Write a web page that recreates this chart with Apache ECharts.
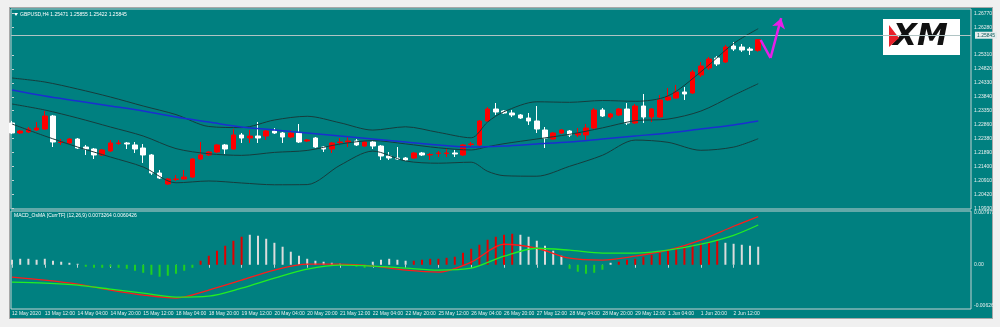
<!DOCTYPE html>
<html>
<head>
<meta charset="utf-8">
<script src="https://cdn.jsdelivr.net/npm/echarts/dist/echarts.min.js"></script>
<style>
  html, body { margin: 0; padding: 0; background: #f0f0f0; }
  #frame { position: absolute; left: 9px; top: 7px; width: 984px; height: 312px;
           background: #008080; border: 1px solid #a8a8a8; box-sizing: border-box; }
  #chart { position: absolute; left: 0; top: 0; width: 1000px; height: 327px; }
</style>
</head>
<body>
<div id="frame"></div>
<div id="chart"></div>
<script>
// GBPUSD H4 candles, one entry per bar
const opens = [
  1.22920,1.22569,1.22604,1.22674,1.22709,1.23165,1.22235,1.22218,1.22358,1.22077,
  1.22007,1.21797,1.21937,1.22200,1.22218,1.22148,1.22042,1.21797,1.21165,1.20779,
  1.20937,1.20954,1.21024,1.21656,1.21797,1.21902,1.22148,1.22007,1.22499,1.22393,
  1.22463,1.22463,1.22639,1.22569,1.22428,1.22569,1.22288,1.22393,1.22077,1.22007,
  1.22235,1.22253,1.22288,1.22112,1.22253,1.22112,1.21761,1.21691,1.21691,1.21691,
  1.21867,1.21797,1.21849,1.21849,1.21867,1.21797,1.22165,1.22148,1.22990,1.23411,
  1.23341,1.23271,1.23201,1.23095,1.22990,1.22674,1.22358,1.22569,1.22639,1.22499,
  1.22499,1.22744,1.23376,1.23130,1.23201,1.23411,1.22920,1.23516,1.23130,1.23130,
  1.23727,1.23797,1.24008,1.23973,1.24605,1.24850,1.25201,1.25061,1.25622,1.25587,
  1.25517,1.25471];
const highs = [
  1.22990,1.22674,1.22779,1.22955,1.23341,1.23201,1.22358,1.22393,1.22393,1.22148,
  1.22042,1.22007,1.22323,1.22323,1.22253,1.22253,1.22183,1.21832,1.21270,1.20989,
  1.21095,1.21270,1.21691,1.22253,1.21937,1.22183,1.22183,1.22709,1.22569,1.22674,
  1.22955,1.22674,1.22744,1.22604,1.22674,1.22885,1.22358,1.22428,1.22112,1.22253,
  1.22393,1.22428,1.22358,1.22288,1.22288,1.22148,1.21902,1.22077,1.21726,1.21902,
  1.21902,1.21867,1.21937,1.22007,1.21972,1.22183,1.22253,1.23025,1.23481,1.23622,
  1.23376,1.23376,1.23236,1.23271,1.23516,1.22779,1.22604,1.22709,1.22674,1.22744,
  1.22885,1.23446,1.23446,1.23271,1.23446,1.23622,1.23587,1.23938,1.23446,1.23903,
  1.24148,1.24254,1.24183,1.24780,1.25061,1.25236,1.25271,1.25658,1.25763,1.25693,
  1.25587,1.25855];
const lows = [
  1.22534,1.22534,1.22569,1.22639,1.22674,1.22077,1.22148,1.22183,1.22007,1.21797,
  1.21656,1.21761,1.21902,1.22148,1.22007,1.21867,1.21516,1.21095,1.20954,1.20744,
  1.20884,1.20937,1.20989,1.21621,1.21761,1.21867,1.21832,1.21972,1.22218,1.22218,
  1.22218,1.22323,1.22534,1.22218,1.22393,1.22218,1.22253,1.22042,1.21902,1.21867,
  1.22148,1.22077,1.22112,1.22077,1.22007,1.21621,1.21621,1.21621,1.21586,1.21656,
  1.21761,1.21621,1.21726,1.21726,1.21726,1.21761,1.22077,1.22112,1.22955,1.23201,
  1.23236,1.23130,1.23060,1.22850,1.22569,1.22042,1.22323,1.22534,1.22428,1.22428,
  1.22323,1.22709,1.23130,1.23060,1.23165,1.22850,1.22885,1.22920,1.22955,1.23095,
  1.23692,1.23762,1.23727,1.23938,1.24534,1.24780,1.24920,1.25026,1.25447,1.25412,
  1.25307,1.25422];
const closes = [
  1.22569,1.22639,1.22709,1.22744,1.23165,1.22253,1.22253,1.22358,1.22042,1.22007,
  1.21797,1.21972,1.22218,1.22218,1.22183,1.22007,1.21797,1.21165,1.20989,1.20954,
  1.20954,1.21024,1.21656,1.21797,1.21902,1.22148,1.22007,1.22499,1.22393,1.22463,
  1.22393,1.22639,1.22569,1.22428,1.22569,1.22253,1.22323,1.22077,1.22007,1.22218,
  1.22253,1.22288,1.22148,1.22253,1.22112,1.21761,1.21691,1.21656,1.21621,1.21867,
  1.21797,1.21814,1.21867,1.21867,1.21832,1.22148,1.22183,1.22990,1.23411,1.23306,
  1.23271,1.23201,1.23095,1.22990,1.22709,1.22393,1.22569,1.22674,1.22499,1.22551,
  1.22744,1.23376,1.23165,1.23236,1.23411,1.22920,1.23516,1.23130,1.23411,1.23727,
  1.23832,1.24008,1.23938,1.24710,1.24920,1.25166,1.24991,1.25587,1.25517,1.25482,
  1.25471,1.25845];

// Bollinger bands (20, 2), sampled at these bar indices
const bandIdx   = [0,4,8,12,16,20,24,28,32,36,40,44,48,52,56,58,60,64,68,72,76,80,84,88,91];
const bandUpper = [1.24499,1.24359,1.24113,1.23832,1.23516,1.23215,1.22797,1.22758,1.23025,1.23155,
                   1.22927,1.22671,1.22786,1.22590,1.22400,1.22955,1.23316,1.23664,1.23646,1.23709,
                   1.23681,1.23871,1.24713,1.25710,1.26230];
const bandMid   = [1.23587,1.23376,1.23095,1.22779,1.22463,1.22021,1.21840,1.21784,1.21888,1.21956,
                   1.22181,1.22302,1.22186,1.22049,1.21972,1.22088,1.22193,1.22358,1.22523,1.22748,
                   1.23000,1.23057,1.23337,1.23892,1.24299];
const bandLower = [1.22885,1.22463,1.22077,1.21726,1.21375,1.20821,1.20884,1.20814,1.20751,1.20758,
                   1.21435,1.21933,1.21586,1.21509,1.21544,1.21224,1.21070,1.21052,1.21400,1.21786,
                   1.22320,1.22242,1.21962,1.22074,1.22369];

// moving average (blue), sampled at these bar indices
const maIdx = [0,4,8,12,16,20,24,28,32,36,40,44,48,52,56,60,64,68,72,76,80,84,88,91];
const maVal = [1.24078,1.23867,1.23692,1.23516,1.23341,1.23130,1.22955,1.22779,1.22674,1.22569,
               1.22463,1.22358,1.22253,1.22148,1.22077,1.22112,1.22183,1.22253,1.22358,1.22463,
               1.22569,1.22709,1.22850,1.22990];

// MACD_OsMA (12,26,9) histogram, one value per bar, and its colour runs
const histVals = [
  0.00076,0.00091,0.00091,0.00076,0.00091,0.00061,0.00046,0.00030,0.00015,-0.00030,
  -0.00046,-0.00046,-0.00030,-0.00046,-0.00061,-0.00091,-0.00122,-0.00152,-0.00182,-0.00167,
  -0.00137,-0.00091,-0.00046,0.00061,0.00137,0.00213,0.00289,0.00365,0.00426,0.00456,
  0.00441,0.00395,0.00334,0.00274,0.00198,0.00137,0.00091,0.00061,0.00046,0.00030,
  0.00015,-0.00015,-0.00030,-0.00046,0.00046,0.00076,0.00091,0.00076,0.00061,0.00061,
  0.00076,0.00091,0.00091,0.00106,0.00122,0.00182,0.00243,0.00304,0.00380,0.00426,
  0.00456,0.00471,0.00456,0.00426,0.00365,0.00289,0.00213,0.00137,-0.00061,-0.00106,
  -0.00137,-0.00122,-0.00076,0.00030,0.00046,0.00076,0.00091,0.00122,0.00152,0.00182,
  0.00213,0.00243,0.00274,0.00304,0.00334,0.00350,0.00365,0.00334,0.00319,0.00304,
  0.00289,0.00274];
const histColorRuns = [['w',9],['g',14],['r',6],['w',12],['g',3],['w',5],['r',13],['w',6],['g',5],['w',1],['r',13],['w',5]];

// MACD main (red) and signal (green), sampled at these bar indices
const macdIdx = [0,4,8,12,16,20,24,28,32,36,40,44,48,52,56,60,64,68,72,76,80,84,88,91];
const macdMain = [-0.00188,-0.00233,-0.00294,-0.00385,-0.00461,-0.00506,-0.00385,-0.00233,-0.00082,0.00009,
                  0.00009,-0.00021,-0.00082,-0.00112,0.00039,0.00312,0.00251,0.00100,0.00070,0.00130,
                  0.00221,0.00373,0.00585,0.0073264];
const macdSignal = [-0.00264,-0.00279,-0.00309,-0.00370,-0.00430,-0.00491,-0.00476,-0.00355,-0.00203,-0.00067,
                    -0.00006,-0.00021,-0.00052,-0.00082,-0.00052,0.00130,0.00251,0.00221,0.00176,0.00176,
                    0.00221,0.00312,0.00448,0.0060426];

// time axis labels every 4 bars
const timeLabels = ['12 May 2020','13 May 12:00','14 May 04:00','14 May 20:00','15 May 12:00','18 May 04:00',
  '18 May 20:00','19 May 12:00','20 May 04:00','20 May 20:00','21 May 12:00','22 May 04:00','22 May 20:00',
  '25 May 12:00','26 May 04:00','26 May 20:00','27 May 12:00','28 May 04:00','28 May 20:00','29 May 12:00',
  '1 Jun 04:00','1 Jun 20:00','2 Jun 12:00'];
const timeTickIdx = [0,4,8,12,16,20,24,28,32,36,40,44,48,52,56,60,64,68,72,76,80,84,88];

// price scale ticks and indicator scale ticks
const priceTicks = [1.26770,1.26280,1.25310,1.24820,1.24330,1.23840,1.23350,1.22860,1.22380,1.21890,1.21400,1.20910,1.20420,1.19930];
const macdTicks = [0.007973, 0, -0.006268];
const bid = 1.25845;
const quote = { symbol: 'GBPUSD,H4', open: 1.25471, high: 1.25855, low: 1.25422, close: 1.25845 };

// hand-drawn arrow after the last bar, in bar index / price units
const arrowPts = [[91.3, 1.25833], [92.5, 1.25201], [93.8, 1.26600]];

const FONT = 'Liberation Sans';
const TXT = '#e8eeee';
const BORDER = '#c4d2d2';
const BAR_PX = 8.2;
const X_MIN = -1 / BAR_PX;
const X_MAX = X_MIN + 960 / BAR_PX;

const histColors = [];
histColorRuns.forEach(([c, n]) => { for (let k = 0; k < n; k++) histColors.push(c); });
const histPalette = { w: '#dcdcdc', r: '#e00000', g: '#1fd01f' };

const pairs = (idx, vals) => idx.map((x, k) => [x, vals[k]]);

const chart = echarts.init(document.getElementById('chart'), null, { renderer: 'canvas' });

const bandLine = (name, vals) => ({
  name, type: 'line', xAxisIndex: 0, yAxisIndex: 0, data: pairs(bandIdx, vals),
  showSymbol: false, smooth: 0.3, z: 3,
  lineStyle: { color: '#163c3c', width: 1 }
});

chart.setOption({
  animation: false,
  textStyle: { fontFamily: FONT },
  grid: [
    { left: 11, top: 9, width: 960, height: 200, show: true, borderColor: BORDER, borderWidth: 1, backgroundColor: 'transparent' },
    { left: 11, top: 211, width: 960, height: 98, show: true, borderColor: BORDER, borderWidth: 1, backgroundColor: 'transparent' }
  ],
  xAxis: [
    { type: 'value', gridIndex: 0, min: X_MIN, max: X_MAX, show: true,
      axisLine: { show: false }, axisTick: { show: false }, axisLabel: { show: false }, splitLine: { show: false } },
    { type: 'value', gridIndex: 1, min: X_MIN, max: X_MAX, position: 'bottom',
      axisLine: { show: false }, splitLine: { show: false },
      axisTick: { show: true, customValues: timeTickIdx, length: 3, lineStyle: { color: BORDER } },
      axisLabel: { customValues: timeTickIdx, formatter: v => timeLabels[Math.round(v / 4)],
                   align: 'left', margin: 2, color: TXT, fontSize: 5, fontFamily: FONT } }
  ],
  yAxis: [
    { type: 'value', gridIndex: 0, position: 'right', min: 1.19901, max: 1.26921,
      axisLine: { show: false }, splitLine: { show: false },
      axisTick: { show: true, customValues: priceTicks, length: 2, lineStyle: { color: BORDER } },
      axisLabel: { customValues: priceTicks, formatter: v => v.toFixed(5), margin: 3,
                   color: TXT, fontSize: 5, fontFamily: FONT } },
    { type: 'value', gridIndex: 1, position: 'right', min: -0.006724, max: 0.008171,
      axisLine: { show: false }, splitLine: { show: false },
      axisTick: { show: false },
      axisLabel: { customValues: macdTicks, formatter: v => (v === 0 ? '0.00' : v.toFixed(6)), margin: 3,
                   color: TXT, fontSize: 5, fontFamily: FONT } }
  ],
  series: [
    {
      name: 'GBPUSD', type: 'candlestick', xAxisIndex: 0, yAxisIndex: 0,
      data: opens.map((o, i) => [i, o, closes[i], lows[i], highs[i]]),
      encode: { x: 0, y: [1, 2, 3, 4] },
      barWidth: 5, z: 2,
      itemStyle: { color: '#ff0000', color0: '#ffffff', borderColor: '#ff0000', borderColor0: '#ffffff', borderWidth: 1 },
      markLine: {
        silent: true, symbol: ['none', 'none'], animation: false,
        lineStyle: { color: '#b0c4c4', width: 1, type: 'solid' },
        data: [{ yAxis: bid }],
        label: { position: 'end', distance: 4, formatter: bid.toFixed(5), color: '#0b5a5a',
                 backgroundColor: '#e4ecec', padding: [1, 2], fontSize: 5, fontFamily: FONT }
      }
    },
    bandLine('BB upper', bandUpper),
    bandLine('BB middle', bandMid),
    bandLine('BB lower', bandLower),
    {
      name: 'MA', type: 'line', xAxisIndex: 0, yAxisIndex: 0, data: pairs(maIdx, maVal),
      showSymbol: false, smooth: 0.3, z: 4,
      lineStyle: { color: '#1a2fd0', width: 1.5 },
      markLine: {
        silent: true, animation: false, symbol: ['none', 'none'],
        lineStyle: { color: '#e81ee8', width: 2.5, type: 'solid' },
        label: { show: false },
        data: [
          [{ coord: arrowPts[0], symbol: 'none' }, { coord: arrowPts[1], symbol: 'none' }],
          [{ coord: arrowPts[1], symbol: 'none' }, { coord: arrowPts[2], symbol: 'arrow', symbolSize: 10 }]
        ]
      }
    },
    {
      name: 'OsMA', type: 'bar', xAxisIndex: 1, yAxisIndex: 1, barWidth: 2,
      data: histVals.map((v, i) => ({ value: [i, v], itemStyle: { color: histPalette[histColors[i]] } }))
    },
    {
      name: 'MACD', type: 'line', xAxisIndex: 1, yAxisIndex: 1, data: pairs(macdIdx, macdMain),
      showSymbol: false, smooth: 0.3, lineStyle: { color: '#ff1a1a', width: 1.3 }, z: 5
    },
    {
      name: 'Signal', type: 'line', xAxisIndex: 1, yAxisIndex: 1, data: pairs(macdIdx, macdSignal),
      showSymbol: false, smooth: 0.3, lineStyle: { color: '#22ee22', width: 1.3 }, z: 5
    }
  ],
  graphic: [
    { type: 'polygon', shape: { points: [[14, 13], [18, 13], [16, 16]] }, style: { fill: '#ffffff' } },
    { type: 'text', left: 20, top: 12,
      style: { text: quote.symbol + ' ' + [quote.open, quote.high, quote.low, quote.close].map(v => v.toFixed(5)).join(' '),
               fill: '#ffffff', font: '5px "Liberation Sans"' } },
    { type: 'text', left: 14, top: 213,
      style: { text: 'MACD_OsMA [CurrTF] (12,26,9) ' + macdMain[macdMain.length - 1].toFixed(7) + ' ' + macdSignal[macdSignal.length - 1].toFixed(7),
               fill: '#ffffff', font: '5px "Liberation Sans"' } },
    { type: 'group', children: [
      { type: 'rect', shape: { x: 883, y: 19, width: 77, height: 36 }, style: { fill: '#ffffff' } },
      { type: 'text', x: 893, y: 37,
        style: { text: 'XM', fill: '#111111', font: 'italic 900 31px "DejaVu Sans"', textVerticalAlign: 'middle' } },
      { type: 'polygon', shape: { points: [[889, 25], [899, 38], [889, 47]] }, style: { fill: '#e8202a' } }
    ] }
  ]
});
</script>
</body>
</html>
